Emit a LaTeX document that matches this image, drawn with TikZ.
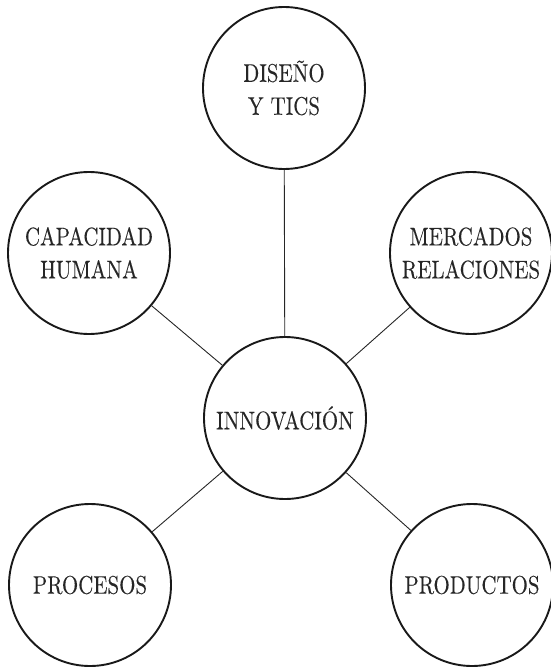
\documentclass[tikz,border=0pt]{standalone}
\usepackage{fontspec}
\setmainfont{lmroman10-regular.otf}[FakeStretch=0.82,FakeBold=0.15]
\begin{document}
\begin{tikzpicture}[x=1pt,y=-1pt,
  bub/.style={circle,draw=black!90,line width=1.9pt,minimum size=162pt,inner sep=0pt,
    align=center,font=\fontsize{25.5}{33}\selectfont,text=black!85},
  link/.style={draw=black!85,line width=0.9pt}]
\useasboundingbox (0,0) rectangle (550,669);
\node[bub] (top) at (284,88) {DISEÑO\\Y TICS};
\node[bub] (cap) at (89,253) {CAPACIDAD\\HUMANA};
\node[bub] (mer) at (471,253) {MERCADOS\\RELACIONES};
\node[bub] (inn) at (285,418) {INNOVACIÓN};
\node[bub] (pro) at (90,585) {PROCESOS};
\node[bub] (prd) at (472,585) {PRODUCTOS};
\draw[link] (top) -- (inn);
\draw[link] (cap) -- (inn);
\draw[link] (mer) -- (inn);
\draw[link] (pro) -- (inn);
\draw[link] (prd) -- (inn);
\end{tikzpicture}
\end{document}
